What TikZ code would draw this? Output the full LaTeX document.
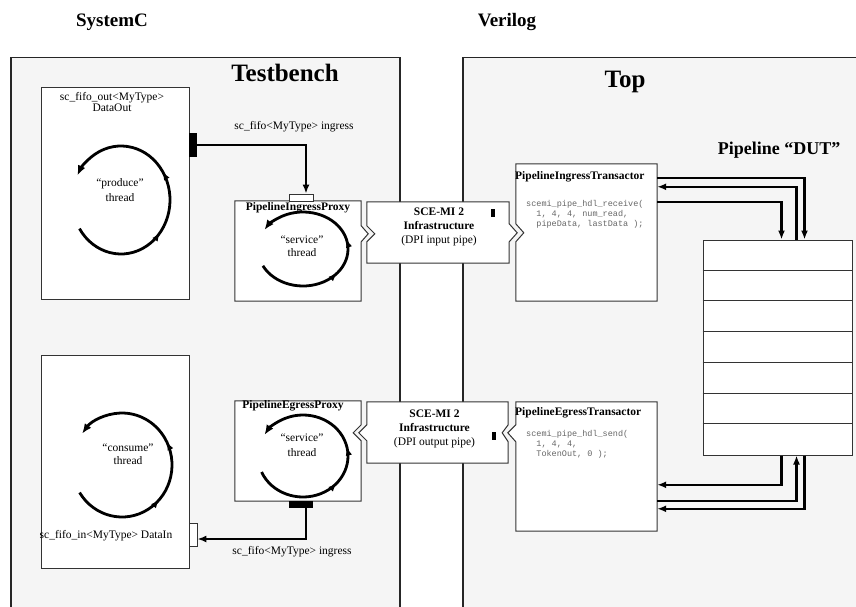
\documentclass[tikz,border=0pt]{standalone}
\usepackage{fontspec}
\setmainfont{Liberation Serif}
\newfontfamily\codefont{Liberation Mono}
\usetikzlibrary{arrows.meta,decorations.markings,calc}
\definecolor{bggray}{HTML}{F5F5F5}
\definecolor{edge}{HTML}{333333}
\definecolor{codegray}{HTML}{666666}
\tikzset{
  outerbox/.style={draw=black!85, line width=1.5pt, fill=bggray, inner sep=0},
  innerbox/.style={draw=edge, line width=1pt, fill=white},
  holder/.style={draw=none, inner sep=0},
  wire/.style={line width=2.3pt, -{Latex[length=9pt,width=7pt]}},
  thread/.style n args={2}{line width=2.8pt, -{Latex[length=10pt,width=8pt]},
    decoration={markings,
      mark=at position #1 with {\arrow{Latex[length=8pt,width=6.5pt]}},
      mark=at position #2 with {\arrow{Latex[length=8pt,width=6.5pt]}}},
    postaction={decorate}},
  lbl/.style={font=\fontsize{11.5}{13}\selectfont, align=center, inner sep=0},
  blbl/.style={font=\fontsize{11.5}{13}\selectfont\bfseries, inner sep=0},
  code/.style={font=\fontsize{8.5}{10}\selectfont\codefont, text=codegray, align=left, inner sep=0, anchor=north west},
  rowline/.style={draw=edge, line width=0.9pt},
}
\begin{document}
\begin{tikzpicture}[x=1pt,y=-1pt]
\fill[white] (0,0) rectangle (856,607);
\useasboundingbox (0,0) rectangle (856,607);

% headers
\node[font=\fontsize{19}{22}\selectfont\bfseries, inner sep=0] (sysc) at (112,22) {SystemC};
\node[font=\fontsize{19}{22}\selectfont\bfseries, inner sep=0] (veri) at (507,22) {Verilog};

% outer containers
\node[outerbox, minimum width=389pt, minimum height=580pt, anchor=north west] (tb) at (10,57) {};
\node[outerbox, minimum width=420pt, minimum height=580pt, anchor=north west] (top) at (462,57) {};
\node[font=\fontsize{25}{28}\selectfont\bfseries, inner sep=0] (tbt) at (285,73) {Testbench};
\node[font=\fontsize{25}{28}\selectfont\bfseries, inner sep=0] (topt) at (625,82) {Top};

% produce / consume boxes
\node[innerbox, minimum width=148pt, minimum height=211pt, inner sep=0] (pb) at (115,193.5) {};
\node[innerbox, minimum width=148pt, minimum height=213pt, inner sep=0] (cb) at (115,461.5) {};
\node[font=\fontsize{11.5}{11}\selectfont, align=center, inner sep=0] (pbt) at (112,102.5) {sc\_fifo\_out<MyType>\\DataOut};
\node[lbl] (cbt) at (106,536) {sc\_fifo\_in<MyType> DataIn};

% threads
\draw[thread={0.36}{0.6}] (121,200) ++(148:49 and 54) arc[start angle=148, end angle=-153, x radius=49, y radius=54];
\node[lbl, font=\fontsize{11.5}{15}\selectfont] (prt) at (120,190.5) {“produce”\\thread};
\draw[thread={0.36}{0.6}] (122,465) ++(148:50 and 52) arc[start angle=148, end angle=-143, x radius=50, y radius=52];
\node[lbl, font=\fontsize{11.5}{13}\selectfont] (cot) at (128,454.5) {“consume”\\thread};

% proxies
\node[holder, minimum width=126pt, minimum height=100pt] (ip) at (298,251) {};
\draw[innerbox] (ip.north west) -- (ip.north east) -- ($(ip.north east)+(0,25)$) -- ($(ip.north east)+(7,33)$) -- ($(ip.north east)+(0,41)$) -- (ip.south east) -- (ip.south west) -- cycle;
\node[blbl] (ipt) at (298,208) {PipelineIngressProxy};
\draw[thread={0.38}{0.55}] (303,249) ++(153:45 and 37) arc[start angle=153, end angle=-149, x radius=45, y radius=37];
\node[lbl, font=\fontsize{11.5}{12.5}\selectfont] (ips) at (302,246) {“service”\\thread};

\node[holder, minimum width=126pt, minimum height=100pt] (ep) at (298,451) {};
\draw[innerbox] (ep.north west) -- (ep.north east) -- ($(ep.north east)+(0,24)$) -- ($(ep.north east)+(-8,32)$) -- ($(ep.north east)+(0,40)$) -- (ep.south east) -- (ep.south west) -- cycle;
\node[blbl] (ept) at (293,406) {PipelineEgressProxy};
\draw[thread={0.38}{0.55}] (303,456) ++(157:45 and 41) arc[start angle=157, end angle=-149, x radius=45, y radius=41];
\node[lbl, font=\fontsize{11.5}{15}\selectfont] (eps) at (302,445.5) {“service”\\thread};

% ports
\node[holder, fill=black, minimum width=8pt, minimum height=24pt] (pport) at (193,145) {};
\node[innerbox, line width=0.8pt, inner sep=0, minimum width=24pt, minimum height=7pt] (ipport) at (301,197.5) {};
\node[innerbox, line width=0.8pt, inner sep=0, minimum width=8pt, minimum height=23pt] (cport) at (193,534.5) {};
\node[holder, fill=black, minimum width=24pt, minimum height=7pt] (epport) at (301,504.5) {};

\draw[wire] (pport.east) -| ([xshift=5pt]ipport.north);
\draw[wire] ([xshift=5pt]epport.south) |- ($(cport.east)+(0,4.5)$);
\node[lbl] (fin) at (294,127) {sc\_fifo<MyType> ingress};
\node[lbl] (fout) at (292,552) {sc\_fifo<MyType> ingress};

% SCE-MI boxes
\node[holder, minimum width=142pt, minimum height=61pt] (si) at (438,232.5) {};
\draw[innerbox] (si.north west) -- (si.north east) -- ($(si.north east)+(0,22)$) -- ($(si.north east)+(8,31)$) -- ($(si.north east)+(0,40)$) -- (si.south east) -- (si.south west) -- ($(si.north west)+(0,40)$) -- ($(si.north west)+(8,32)$) -- ($(si.north west)+(0,24)$) -- cycle;
\node[lbl, font=\fontsize{11.5}{14}\selectfont] (sit) at (439,227) {\textbf{SCE-MI 2}\\\textbf{Infrastructure}\\(DPI input pipe)};
\node[holder, fill=black, minimum width=4pt, minimum height=8pt] (sib) at (493,213) {};

\node[holder, minimum width=141pt, minimum height=61pt] (so) at (437.5,432.5) {};
\draw[innerbox] (so.north west) -- (so.north east) -- ($(so.north east)+(0,23)$) -- ($(so.north east)+(-6,31)$) -- ($(so.north east)+(0,40)$) -- (so.south east) -- (so.south west) -- ($(so.north west)+(0,39)$) -- ($(so.north west)+(-8,31)$) -- ($(so.north west)+(0,23)$) -- cycle;
\node[lbl, font=\fontsize{11.5}{14}\selectfont] (sot) at (434.5,429) {\textbf{SCE-MI 2}\\\textbf{Infrastructure}\\(DPI output pipe)};
\node[holder, fill=black, minimum width=4pt, minimum height=8pt] (sob) at (493.5,436) {};

% transactors
\node[holder, minimum width=141pt, minimum height=137pt] (it) at (586.5,232.5) {};
\draw[innerbox] (it.north west) -- (it.north east) -- (it.south east) -- (it.south west) -- ($(it.north west)+(0,78)$) -- ($(it.north west)+(8,69)$) -- ($(it.north west)+(0,60)$) -- cycle;
\node[blbl, anchor=west] (itt) at (515,177) {PipelineIngressTransactor};
\node[code] (itc) at (526,200.5) {scemi\_pipe\_hdl\_receive(\\\hspace*{10.2pt}1, 4, 4, num\_read,\\\hspace*{10.2pt}pipeData, lastData );};

\node[holder, minimum width=141pt, minimum height=129pt] (et) at (586.5,466.5) {};
\draw[innerbox] (et.north west) -- (et.north east) -- (et.south east) -- (et.south west) -- ($(et.north west)+(0,40)$) -- ($(et.north west)+(-8,31)$) -- ($(et.north west)+(0,23)$) -- cycle;
\node[blbl, anchor=west] (ett) at (515,413) {PipelineEgressTransactor};
\node[code] (etc) at (526,430.5) {scemi\_pipe\_hdl\_send(\\\hspace*{10.2pt}1, 4, 4,\\\hspace*{10.2pt}TokenOut, 0 );};

% DUT
\node[font=\fontsize{18}{20}\selectfont\bfseries, inner sep=0] (dutt) at (779,150) {Pipeline “DUT”};
\node[innerbox, minimum width=149pt, minimum height=215pt, inner sep=0] (dut) at (777.5,347.5) {};
\foreach \i in {1,...,6} {
  \draw[rowline] ($(dut.north west)+(0,{\i*215/7})$) -- ($(dut.north east)+(0,{\i*215/7})$);
}

% DUT connections
\draw[wire] ($(it.north east)+(0,14)$) -| ($(dut.north west)+(102,0)$);
\draw[wire] ($(dut.north west)+(94,0)$) |- ($(it.north east)+(0,23)$);
\draw[wire] ($(it.north east)+(0,38)$) -| ($(dut.north west)+(79,0)$);
\draw[wire] ($(dut.south west)+(79,0)$) |- ($(et.north east)+(0,83)$);
\draw[wire] ($(et.north east)+(0,99)$) -| ($(dut.south west)+(94,0)$);
\draw[wire] ($(dut.south west)+(102,0)$) |- ($(et.north east)+(0,107)$);
\end{tikzpicture}
\end{document}
